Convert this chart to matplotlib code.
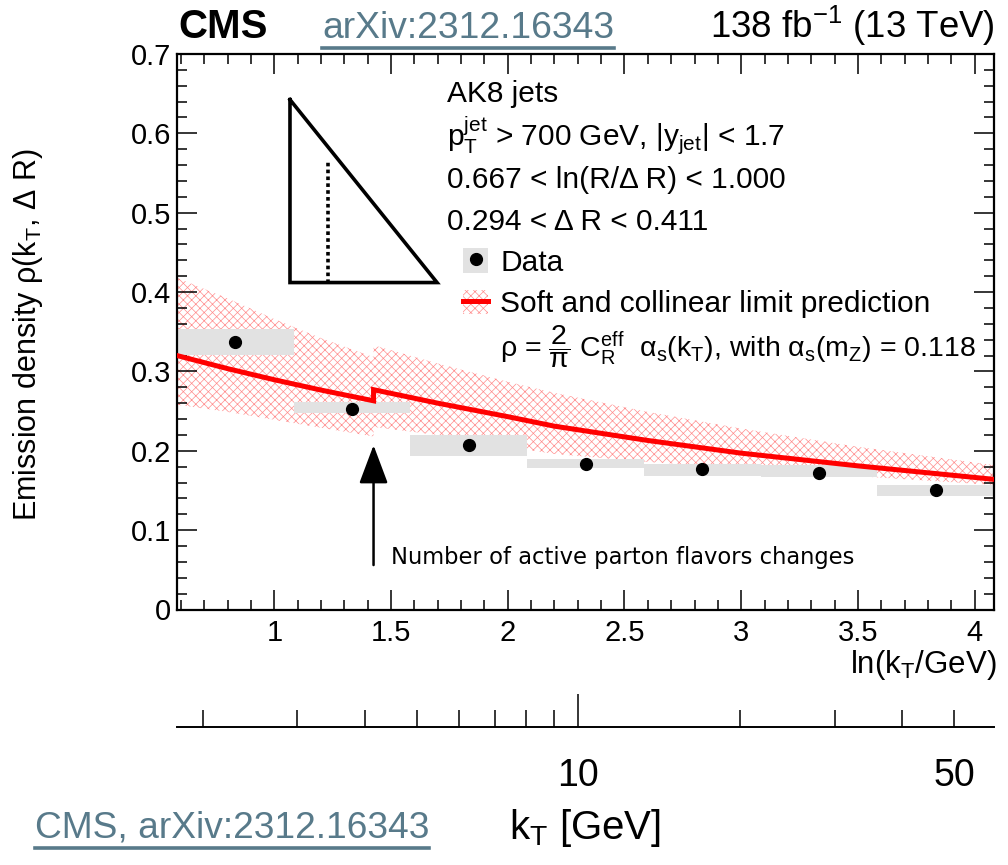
import numpy as np
import matplotlib
matplotlib.use("Agg")
import matplotlib.pyplot as plt
from matplotlib.lines import Line2D
from matplotlib.patches import Patch
from matplotlib.legend_handler import HandlerTuple
from matplotlib.ticker import MultipleLocator, FixedLocator, FixedFormatter, FormatStrFormatter

plt.rcParams["font.family"] = ["Liberation Sans", "DejaVu Sans"]
plt.rcParams["mathtext.fontset"] = "custom"
plt.rcParams["mathtext.rm"] = "Liberation Sans"
plt.rcParams["mathtext.it"] = "Liberation Sans"
plt.rcParams["mathtext.bf"] = "Liberation Sans:bold"
plt.rcParams["mathtext.sf"] = "Liberation Sans"
plt.rcParams["mathtext.default"] = "regular"
plt.rcParams["hatch.linewidth"] = 0.5

# measured emission density in bins of ln(kT/GeV)
bin_edges = [0.583, 1.083, 1.583, 2.083, 2.583, 3.083, 3.583, 4.083]
rho_data = [0.337, 0.253, 0.207, 0.183, 0.177, 0.172, 0.151]
rho_syst_lo = [0.321, 0.247, 0.194, 0.178, 0.168, 0.167, 0.143]
rho_syst_hi = [0.353, 0.262, 0.220, 0.190, 0.183, 0.182, 0.157]

# soft/collinear prediction, below and above the b-quark threshold
flavour_step = 1.425
pred_x_low = [0.583, 0.8, 1.0, 1.2, 1.425]
pred_low = [0.320, 0.3035, 0.2895, 0.2765, 0.263]
band_low_dn = [0.258, 0.249, 0.239, 0.229, 0.218]
band_low_up = [0.418, 0.392, 0.366, 0.342, 0.318]
pred_x_high = [1.425, 1.7, 2.0, 2.2, 2.6, 3.0, 3.5, 4.083]
pred_high = [0.277, 0.260, 0.243, 0.231, 0.213, 0.197, 0.181, 0.164]
band_high_dn = [0.230, 0.220, 0.205, 0.196, 0.186, 0.178, 0.168, 0.157]
band_high_up = [0.333, 0.310, 0.287, 0.273, 0.249, 0.228, 0.205, 0.182]

# Lund-plane sketch (ln(R/dR) slice)
tri_x = [1.067, 1.067, 1.697, 1.067]
tri_y = [0.6425, 0.412, 0.412, 0.6425]
slice_x = 1.229
slice_top = 0.5647

W, H = 1008, 865
SLATE = "#587a8a"
GREY = "#e2e2e2"
HATCH_RED = "#ff8c8c"
HATCH = "xxxx"


def fxy(x, y):
    return x / W, 1 - y / H


fig = plt.figure(figsize=(W / 100, H / 100), dpi=100)
ax = fig.add_axes([177 / W, 1 - 609.5 / H, 817 / W, 555.5 / H])

edges = np.array(bin_edges)
centres = 0.5 * (edges[1:] + edges[:-1])
widths = np.diff(edges)
lo = np.array(rho_syst_lo)
hi = np.array(rho_syst_hi)

for xs, dn, up in [(pred_x_low, band_low_dn, band_low_up),
                   (pred_x_high, band_high_dn, band_high_up)]:
    ax.fill_between(xs, dn, up, facecolor="none", edgecolor=HATCH_RED,
                    hatch=HATCH, linewidth=0, zorder=1)
ax.bar(centres, hi - lo, bottom=lo, width=widths, color=GREY, linewidth=0, zorder=2)
ax.plot(pred_x_low + pred_x_high, pred_low + pred_high, color="red", lw=3.6,
        solid_joinstyle="miter", zorder=3)
ax.plot(centres, rho_data, "o", color="black", ms=8.5, zorder=4)

# sketch of the Lund plane slice
ax.plot(tri_x, tri_y, color="black", lw=2.6, solid_joinstyle="miter", zorder=5)
ax.plot([slice_x, slice_x], [tri_y[1], slice_top], color="black", lw=2.6,
        ls=(0, (1, 0.9)), dash_capstyle="butt", zorder=5)

ax.annotate("", xy=(flavour_step, 0.207), xytext=(flavour_step, 0.056),
            arrowprops=dict(arrowstyle="-|>,head_length=1.2,head_width=0.45",
                            color="black", lw=1.8, mutation_scale=20,
                            shrinkA=0, shrinkB=0))
ax.text(1.5, 0.066, "Number of active parton flavors changes", family="DejaVu Sans",
        fontsize=16.3, va="center", ha="left")

ax.set_xlim(bin_edges[0], bin_edges[-1])
ax.set_ylim(0, 0.7)
ax.xaxis.set_major_locator(MultipleLocator(0.5))
ax.xaxis.set_minor_locator(MultipleLocator(0.1))
ax.yaxis.set_major_locator(MultipleLocator(0.1))
ax.yaxis.set_minor_locator(MultipleLocator(0.02))
ax.xaxis.set_major_formatter(FormatStrFormatter("%g"))
ax.yaxis.set_major_formatter(FormatStrFormatter("%g"))
ax.tick_params(which="both", direction="in", top=True, right=True, width=1.1,
               labelsize=21)
ax.tick_params(which="major", length=14.4)
ax.tick_params(which="minor", length=7.2)
ax.tick_params(axis="x", pad=7)
ax.tick_params(axis="y", pad=4)
for s in ax.spines.values():
    s.set_linewidth(1.6)

# legend entries
h_data = (Patch(facecolor=GREY, edgecolor="none"),
          Line2D([], [], marker="o", color="black", ls="none", ms=8.5))
h_pred = (Patch(facecolor="none", edgecolor=HATCH_RED, hatch=HATCH, linewidth=0),
          Line2D([], [], color="red", lw=3.6))
leg = ax.legend([h_data, h_pred], ["Data", "Soft and collinear limit prediction"],
                handler_map={tuple: HandlerTuple(ndivide=1, pad=0)},
                loc="upper left", bbox_to_anchor=fxy(463, 248),
                bbox_transform=fig.transFigure, frameon=False, fontsize=21.5,
                borderpad=0, borderaxespad=0, handlelength=0.85, handleheight=0.9,
                handletextpad=0.4, labelspacing=0.43)

info = [
    (102, "AK8 jets"),
    (145, r"$p_{T}^{jet}$ > 700 GeV, |y$_{jet}$| < 1.7"),
    (188, r"0.667 < ln(R/Δ R) < 1.000"),
    (230, r"0.294 < Δ R < 0.411"),
]
for yb, s in info:
    fig.text(*fxy(447, yb), s, fontsize=21.5, va="baseline", ha="left")
fig.text(*fxy(500, 357),
         r"ρ = $\dfrac{2}{\pi}$ C$_{R}^{eff}$  α$_{s}$(k$_{T}$), with α$_{s}$(m$_{Z}$) = 0.118",
         fontsize=20.5, va="baseline", ha="left")

fig.text(*fxy(28, 335), r"Emission density ρ(k$_{T}$, Δ R)", rotation=90,
         fontsize=22, va="center", ha="center")
fig.text(*fxy(997, 665), r"ln(k$_{T}$/GeV)", fontsize=22.5, va="center", ha="right")

# header
fig.text(*fxy(178, 38), "CMS", fontsize=29, weight="bold", va="baseline")
arx_top = fig.text(*fxy(322, 38), "arXiv:2312.16343", fontsize=26.8, color=SLATE,
                   va="baseline")
fig.text(*fxy(995, 38), r"138 fb$^{-1}$ (13 TeV)", fontsize=26.4, va="baseline",
         ha="right")
arx_bot = fig.text(*fxy(35, 838), "CMS, arXiv:2312.16343", fontsize=26.7, color=SLATE,
                   va="baseline")

# kT axis below, sharing the ln(kT) mapping
ax2 = fig.add_axes([177 / W, 1 - 727 / H, 817 / W, 1e-3])
ax2.set_xscale("log")
ax2.set_xlim(np.exp(bin_edges[0]), np.exp(bin_edges[-1]))
ax2.patch.set_visible(False)
ax2.yaxis.set_visible(False)
for side in ["top", "left", "right"]:
    ax2.spines[side].set_visible(False)
ax2.spines["bottom"].set_linewidth(1.4)
kt_minor = [2, 3, 4, 5, 6, 7, 8, 9, 20, 30, 40, 50]
ax2.xaxis.set_major_locator(FixedLocator([10]))
ax2.xaxis.set_major_formatter(FixedFormatter(["10"]))
ax2.xaxis.set_minor_locator(FixedLocator(kt_minor))
ax2.xaxis.set_minor_formatter(FixedFormatter([""] * (len(kt_minor) - 1) + ["50"]))
ax2.tick_params(which="both", direction="in", width=1.1, labelsize=27, pad=22)
ax2.tick_params(which="major", length=24)
ax2.tick_params(which="minor", length=12)
fig.text(*fxy(585, 828), r"k$_{T}$ [GeV]", fontsize=29, va="center", ha="center")

# underline the reference links
fig.canvas.draw()
for t in (arx_top, arx_bot):
    bb = t.get_window_extent()
    y = bb.y0 - 2
    fig.add_artist(Line2D([bb.x0 / W, bb.x1 / W], [y / H, y / H], color=SLATE, lw=2.6,
                          transform=fig.transFigure))

fig.savefig("out.png", dpi=100)
